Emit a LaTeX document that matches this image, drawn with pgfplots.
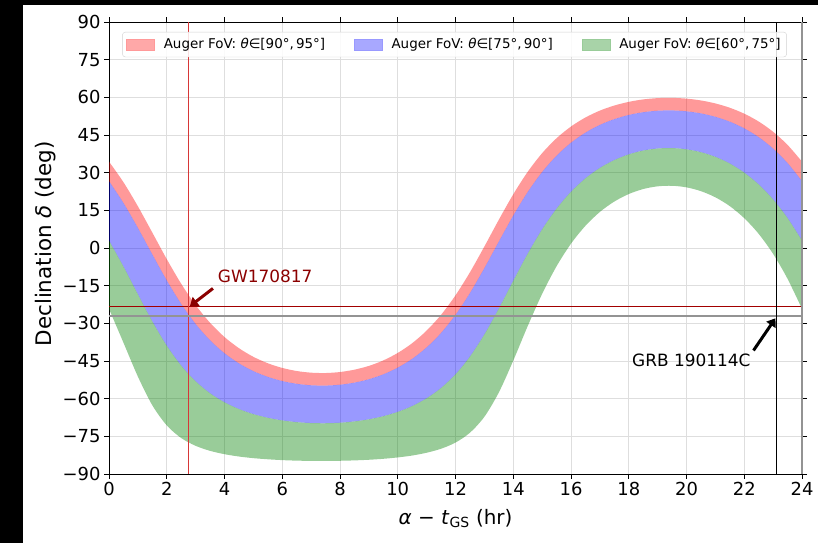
\documentclass[border=0pt]{standalone}
\usepackage{pgfplots}
\pgfplotsset{compat=1.18}
\usepackage{pgfplotstable}
\usepgfplotslibrary{fillbetween}
\usetikzlibrary{arrows.meta}
\usepackage{fontspec}
\setmainfont{DejaVu Sans}

\definecolor{darkred}{RGB}{139,0,0}
\definecolor{vred}{RGB}{215,55,55}
\definecolor{pinkb}{RGB}{255,153,153}
\definecolor{blueb}{RGB}{153,153,255}
\definecolor{greenb}{RGB}{153,204,153}
\definecolor{gridc}{RGB}{222,222,222}
\definecolor{mplgreen}{RGB}{0,128,0}

\pgfplotstableread{
x d60 d75 d90 d95
0 -24.24 2.95 26.62 34.39
0.5 -37.68 -7.35 17.94 26.21
1 -51.19 -18.39 8.01 16.62
1.5 -62.63 -29.21 -2.55 6.14
2 -70.64 -38.86 -12.90 -4.42
2.5 -75.67 -46.83 -22.28 -14.24
3 -78.78 -53.06 -30.25 -22.74
3.5 -80.78 -57.84 -36.76 -29.80
4 -82.11 -61.44 -41.92 -35.46
4.5 -83.04 -64.13 -45.94 -39.90
5 -83.69 -66.15 -49.03 -43.34
5.5 -84.14 -67.62 -51.32 -45.90
6 -84.47 -68.66 -52.98 -47.76
6.5 -84.68 -69.35 -54.08 -48.99
7 -84.78 -69.72 -54.67 -49.65
7.5 -84.80 -69.79 -54.79 -49.79
8 -84.73 -69.58 -54.44 -49.39
8.5 -84.58 -69.06 -53.61 -48.46
9 -84.33 -68.21 -52.26 -46.95
9.5 -83.95 -66.98 -50.31 -44.77
10 -83.40 -65.25 -47.64 -41.79
10.5 -82.65 -62.94 -44.14 -37.91
11 -81.53 -59.83 -39.59 -32.90
11.5 -79.94 -55.73 -33.83 -26.61
12 -77.48 -50.29 -26.62 -18.85
12.5 -73.56 -43.23 -17.94 -9.67
13 -67.21 -34.41 -8.01 0.60
13.5 -57.53 -24.11 2.55 11.24
14 -44.84 -13.06 12.90 21.38
14.5 -31.11 -2.27 22.28 30.32
15 -18.28 7.44 30.25 37.76
15.5 -7.26 15.68 36.76 43.72
16 1.73 22.40 41.92 48.38
16.5 8.84 27.75 45.94 51.98
17 14.37 31.91 49.03 54.72
17.5 18.50 35.02 51.32 56.74
18 21.49 37.30 52.98 58.20
18.5 23.48 38.81 54.08 59.17
19 24.56 39.62 54.67 59.69
19.5 24.78 39.79 54.79 59.79
20 24.15 39.30 54.44 59.49
20.5 22.64 38.16 53.61 58.76
21 20.19 36.31 52.26 57.57
21.5 16.67 33.64 50.31 55.85
22 11.88 30.03 47.64 53.49
22.5 5.63 25.34 44.14 50.37
23 -2.35 19.35 39.59 46.28
23.5 -12.28 11.93 33.83 41.05
24 -24.24 2.95 26.62 34.39
}\bands

\begin{document}
\begin{tikzpicture}
\path (0bp,0bp) rectangle (818bp,543bp);
\fill[black] (0bp,0bp) rectangle (23bp,543bp);
\fill[black] (0bp,538bp) rectangle (818bp,543bp);
\begin{axis}[
  at={(109bp,69bp)}, anchor=south west, scale only axis,
  width=693bp, height=452bp,
  xmin=0, xmax=24, ymin=-90, ymax=90,
  clip=false,
  xtick={0,2,...,24},
  xticklabels={0,2,4,6,8,10,12,14,16,18,20,22,24},
  ytick={-90,-75,...,90},
  yticklabels={−90,−75,−60,−45,−30,−15,0,15,30,45,60,75,90},
  tick label style={font=\fontsize{18}{21}\selectfont, black},
  tick align=outside,
  major tick length=5bp,
  tick style={black, line width=0.8bp},
  axis line style={black, line width=0.8bp},
  grid=major,
  major grid style={gridc, line width=0.8bp},
  xlabel={\textit{α} − \textit{t}\textsubscript{GS} (hr)},
  ylabel={Declination \textit{δ} (deg)},
  xlabel style={font=\fontsize{20}{24}\selectfont, at={(axis description cs:0.5,-0.099)}, anchor=center},
  ylabel style={font=\fontsize{21.5}{25}\selectfont, at={(axis description cs:-0.0915,0.509)}, anchor=center},
  legend columns=3,
  legend style={at={(axis description cs:0.4986,0.978)}, anchor=north,
    draw=gray!35, rounded corners=3bp, fill=white, fill opacity=0.85, text opacity=1,
    font=\fontsize{13.5}{16}\selectfont, inner xsep=4bp, inner ysep=4.5bp,
    /tikz/every odd column/.append style={column sep=7bp},
    /tikz/every even column/.append style={column sep=27bp}},
  legend cell align=left,
]
\addplot[name path=p60, draw=none, smooth, forget plot] table[x=x, y=d60] {\bands};
\addplot[name path=p75, draw=none, smooth, forget plot] table[x=x, y=d75] {\bands};
\addplot[name path=p90, draw=none, smooth, forget plot] table[x=x, y=d90] {\bands};
\addplot[name path=p95, draw=none, smooth, forget plot] table[x=x, y=d95] {\bands};
\addplot[fill=red, fill opacity=0.4, draw=none, forget plot] fill between[of=p90 and p95];
\addplot[fill=blue, fill opacity=0.4, draw=none, forget plot] fill between[of=p75 and p90];
\addplot[fill=mplgreen, fill opacity=0.4, draw=none, forget plot] fill between[of=p60 and p75];

\addplot[darkred!80!red, line width=0.8bp, forget plot] coordinates {(0,-23.38) (24,-23.38)};
\addplot[vred, line width=1bp, forget plot] coordinates {(2.77,-90) (2.77,90)};
\addplot[gray!85, line width=2bp, forget plot] coordinates {(0,-26.94) (24,-26.94)};
\addplot[black, line width=0.9bp, forget plot] coordinates {(23.1,-90) (23.1,90)};
\addplot[gray!85, line width=2bp, forget plot] coordinates {(24,-90) (24,90)};

\draw[darkred, line width=3bp, -{Triangle[length=8bp, width=11bp]}] (axis cs:3.60,-16.1) -- (axis cs:2.80,-23.2);
\draw[black, line width=3bp, -{Triangle[length=8bp, width=11bp]}] (axis cs:22.32,-40.8) -- (axis cs:23.08,-28.0);
\node[text=darkred, font=\fontsize{17}{20}\selectfont] at (axis cs:5.41,-11.1) {GW170817};
\node[text=black, font=\fontsize{17}{20}\selectfont] at (axis cs:20.17,-44.8) {GRB 190114C};

\addlegendimage{legend image code/.code={\fill[pinkb, sharp corners] (0bp,-5.5bp) rectangle (28bp,5.5bp);}}
\addlegendentry{Auger FoV: \textit{θ}∈[90°,\,95°]}
\addlegendimage{legend image code/.code={\fill[blueb, sharp corners] (0bp,-5.5bp) rectangle (28bp,5.5bp);}}
\addlegendentry{Auger FoV: \textit{θ}∈[75°,\,90°]}
\addlegendimage{legend image code/.code={\fill[greenb, sharp corners] (0bp,-5.5bp) rectangle (28bp,5.5bp);}}
\addlegendentry{Auger FoV: \textit{θ}∈[60°,\,75°]}
\end{axis}
\end{tikzpicture}
\end{document}
